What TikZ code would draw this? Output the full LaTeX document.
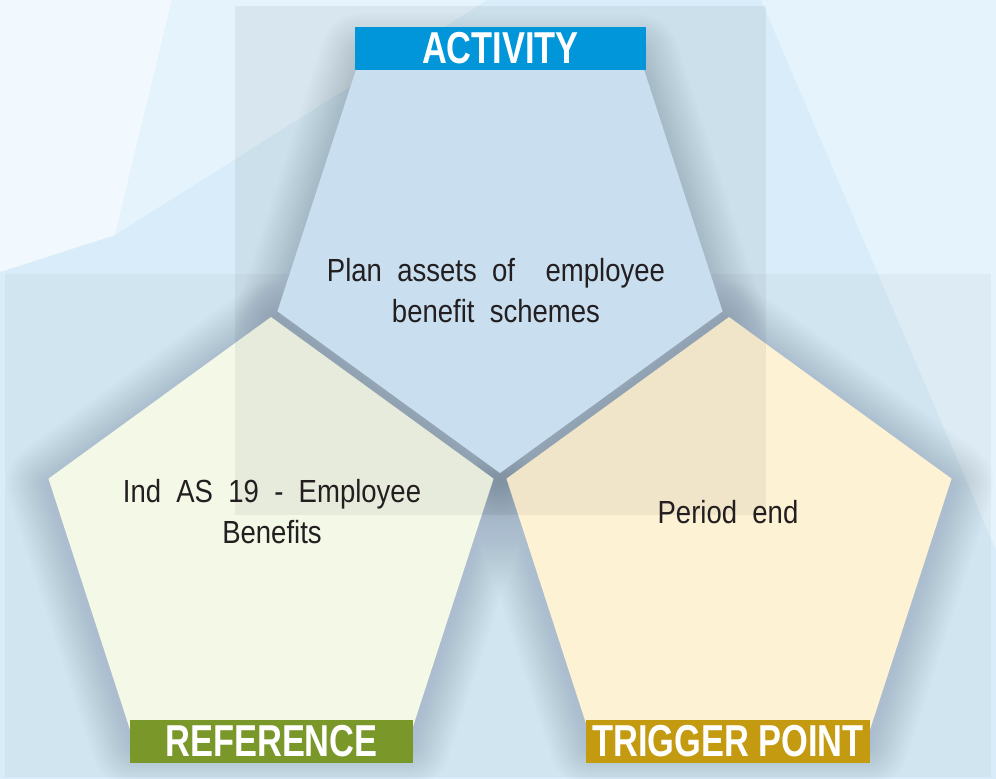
\documentclass[tikz,border=0pt]{standalone}
\usepackage{fontspec}
\setmainfont{Liberation Sans}[FakeStretch=0.86,WordSpace=2]
\newfontfamily\labelfont{Liberation Sans}[FakeStretch=0.77]
\usepackage{tikz}

\definecolor{actblue}{HTML}{0096D9}
\definecolor{refgreen}{HTML}{7A972A}
\definecolor{triggold}{HTML}{C49A10}
\definecolor{ink}{HTML}{231F20}
\definecolor{pentblue}{HTML}{D4EAFC}
\definecolor{pentgreen}{HTML}{F4F8E7}
\definecolor{pentyellow}{HTML}{FEF2D4}
\definecolor{shadowgray}{HTML}{5A6B80}
\definecolor{bgblue}{HTML}{D8EDF9}
\definecolor{bglight}{HTML}{E4F3FC}
\definecolor{bgwhite}{HTML}{F2F9FE}

% regular pentagon: centre x, centre y, angle of first corner
\newcommand{\pent}[3]{([shift={(#1,#2)}]#3:234) -- ([shift={(#1,#2)}]#3+72:234) -- ([shift={(#1,#2)}]#3+144:234) -- ([shift={(#1,#2)}]#3+216:234) -- ([shift={(#1,#2)}]#3+288:234) -- cycle}

\begin{document}
\begin{tikzpicture}[x=1pt,y=-1pt,
    lbl/.style={text=white,font=\labelfont\bfseries\fontsize{44.7}{50}\selectfont,inner sep=0pt,minimum height=43pt},
    body/.style={text=ink,font=\fontsize{32}{41}\selectfont,align=center,inner sep=0pt},
    shadowline/.style={draw=shadowgray,draw opacity=0.012,line join=round,yshift=-5pt}]
    \useasboundingbox (0,0) rectangle (996,779);
    \fill[bgblue](0,0) rectangle (996,779);
    \fill[bgwhite](0,0)--(172,0)--(115,235)--(0,272)--cycle;
    \fill[bglight](172,0)--(487,0)--(115,235)--cycle;
    \fill[bglight](761,0)--(996,0)--(996,550)--cycle;
    \fill[black,opacity=0.03](5,274) rectangle (991,777);
    \foreach \w in {4,8,...,84}{
        \draw[shadowline,line width=\w pt]\pent{500}{239}{90};
        \draw[shadowline,line width=\w pt]\pent{271}{551}{-90};
        \draw[shadowline,line width=\w pt]\pent{729}{551}{-90};
    }
    \fill[pentblue]\pent{500}{239}{90};
    \fill[pentgreen]\pent{271}{551}{-90};
    \fill[pentyellow]\pent{729}{551}{-90};
    \fill[black,opacity=0.05](235,6) rectangle (766,515);
    \node[body](actText)at(496,291){Plan assets of~~employee\\benefit schemes};
    \node[body](refText)at(272,512){Ind AS 19 - Employee\\Benefits};
    \node[body](trigText)at(728,512){Period end};
    \node[lbl,fill=actblue,minimum width=291pt](actLbl)at(500.5,48.5){ACTIVITY};
    \node[lbl,fill=refgreen,minimum width=283pt](refLbl)at(271.5,741.5){REFERENCE};
    \node[lbl,fill=triggold,minimum width=284pt](trigLbl)at(728,741.5){TRIGGER POINT};
\end{tikzpicture}
\end{document}
